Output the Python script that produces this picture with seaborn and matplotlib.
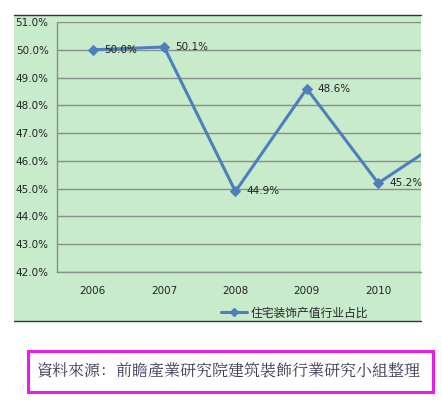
import matplotlib
matplotlib.use("Agg")
import matplotlib.pyplot as plt
import seaborn as sns
import pandas as pd
from matplotlib.patches import Rectangle
from matplotlib.lines import Line2D

years = ["2006", "2007", "2008", "2009", "2010", "2011"]
share = [50.0, 50.1, 44.9, 48.6, 45.2, 46.9]
series_name = "住宅装饰产值行业占比"
source_text = "資料來源：前瞻產業研究院建筑裝飾行業研究小組整理"

sns.set_style("white")
plt.rcParams['font.family'] = ['DejaVu Sans', 'Noto Sans CJK SC']

green = "#C8EBCC"
blue = "#4F7FBA"
grid = "#8A8F8A"

fig = plt.figure(figsize=(4.42, 4.07), dpi=100)

# chart area background and screenshot border lines
fig.patches.append(Rectangle((14 / 442, 1 - 322 / 407), (421 - 14) / 442, (322 - 15) / 407,
                             transform=fig.transFigure, facecolor=green, edgecolor="none", zorder=-5))
fig.lines.append(Line2D([14 / 442, 421 / 442], [1 - 15 / 407] * 2, transform=fig.transFigure,
                        color="#333333", lw=1, zorder=5))
fig.lines.append(Line2D([14 / 442, 421 / 442], [1 - 321 / 407] * 2, transform=fig.transFigure,
                        color="#333333", lw=1, zorder=5))

ax = fig.add_axes([57 / 442, 1 - 272 / 407, (421 - 57) / 442, (272 - 22) / 407])
ax.set_facecolor(green)
ax.patch.set_alpha(0)

df = pd.DataFrame({"idx": range(len(years)), "share": share})
sns.lineplot(data=df, x="idx", y="share", ax=ax, color=blue, lw=2.2,
             marker="D", markersize=5, markeredgecolor=blue)

for i, v in enumerate(share):
    if i < 5:
        ax.annotate(f"{v:.1f}%", (i, v), xytext=(8, 0), textcoords="offset points",
                    va="center", ha="left", fontsize=7.5, color="#222222")

ax.set_ylim(42, 51)
ax.set_yticks(range(42, 52))
ax.set_yticklabels([f"{t:.1f}%" for t in range(42, 52)], fontsize=7.5, color="#222222")
ax.set_xticks(range(len(years)))
ax.set_xticklabels(years, fontsize=7.5, color="#222222")
ax.set_xticks([i - 0.5 for i in range(len(years) + 1)], minor=True)
ax.set_xlim(-0.5, 4.6)
ax.tick_params(axis="x", which="major", length=0, pad=10)
ax.tick_params(axis="x", which="minor", length=4, color=grid, direction="out")
ax.tick_params(axis="y", length=4, color=grid, direction="out", pad=2)
ax.yaxis.grid(True, color=grid, lw=1)
ax.set_axisbelow(True)
ax.set_xlabel("")
ax.set_ylabel("")
for s in ["top", "right"]:
    ax.spines[s].set_visible(False)
for s in ["left", "bottom"]:
    ax.spines[s].set_color(grid)
    ax.spines[s].set_linewidth(1)

handle = Line2D([], [], color=blue, lw=2.2, marker="D", markersize=4)
fig.legend([handle], [series_name], loc="center left", bbox_to_anchor=(210 / 442, 1 - 313 / 407),
           frameon=False, handlelength=2.2, handletextpad=0.3,
           prop={"family": ["Noto Sans CJK SC"], "size": 8.5})

# source box
fig.patches.append(Rectangle((28 / 442, 1 - 392 / 407), (433 - 28) / 442, (392 - 351) / 407,
                             transform=fig.transFigure, facecolor="white", edgecolor="#E81EE8",
                             lw=2.2, zorder=1))
fig.text(229 / 442, 1 - 371 / 407, source_text, ha="center", va="center", fontsize=11.5,
         family=["Noto Serif CJK SC", "Noto Sans CJK SC"], style="italic", color="#3A3A55")

fig.savefig("out.png", dpi=100)
